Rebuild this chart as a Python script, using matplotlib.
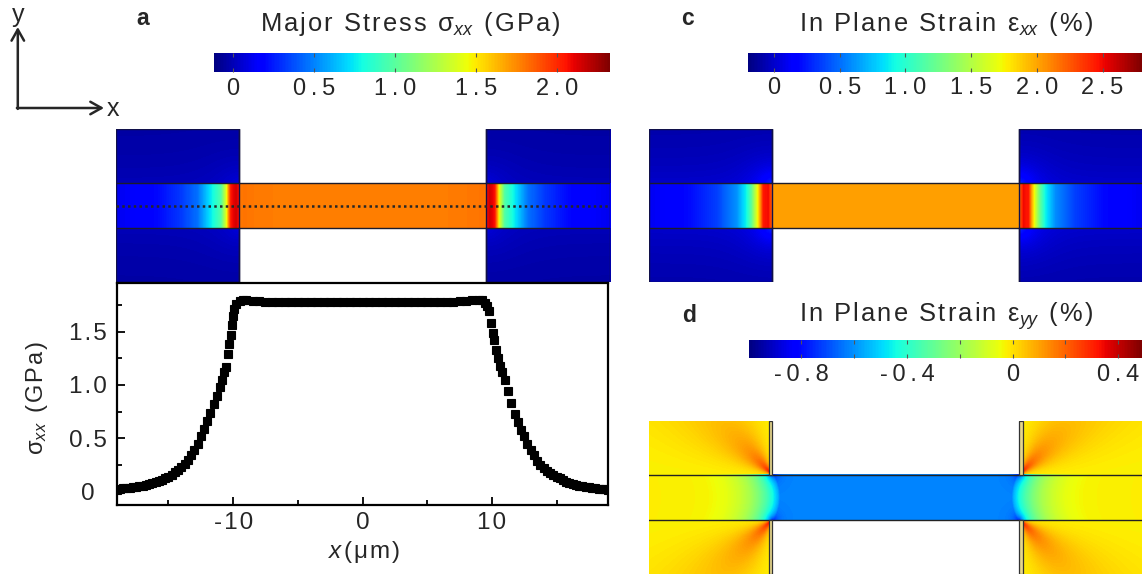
import numpy as np
import matplotlib
matplotlib.use("Agg")
import matplotlib.pyplot as plt
from matplotlib.colors import Normalize
from matplotlib.cm import ScalarMappable
from matplotlib.patches import Rectangle

plt.rcParams["font.family"] = ["Liberation Sans", "DejaVu Sans"]
plt.rcParams["mathtext.fontset"] = "custom"
plt.rcParams["mathtext.rm"] = "Liberation Sans"
plt.rcParams["mathtext.it"] = "Liberation Sans:italic"
plt.rcParams["axes.unicode_minus"] = False

TEXT = "#262626"
HAIR = "\u200a"
THIN = "\u2009"

# ---------------------------------------------------------------- data
# sigma_xx sampled along the dotted centre line of the bridge (panel b)
x_um = [
    -19.0, -18.75, -18.5, -18.25, -18.0, -17.75, -17.5, -17.25, -17.0, -16.75,
    -16.5, -16.25, -16.0, -15.75, -15.5, -15.25, -15.0, -14.75, -14.5, -14.25,
    -14.0, -13.75, -13.5, -13.25, -13.0, -12.75, -12.5, -12.25, -12.0, -11.75,
    -11.5, -11.25, -11.0, -10.85, -10.7, -10.55, -10.4, -10.3, -10.2, -10.1,
    -10.0, -9.9, -9.75, -9.5, -9.25, -9.0, -8.5, -8.0, -7.5, -7.0,
    -6.5, -6.0, -5.5, -5.0, -4.5, -4.0, -3.5, -3.0, -2.5, -2.0,
    -1.5, -1.0, -0.5, 0.0, 0.5, 1.0, 1.5, 2.0, 2.5, 3.0,
    3.5, 4.0, 4.5, 5.0, 5.5, 6.0, 6.5, 7.0, 7.5, 8.0,
    8.5, 9.0, 9.25, 9.5, 9.6, 9.75, 9.9, 10.05, 10.2, 10.35,
    10.5, 10.65, 10.8, 11.0, 11.25, 11.5, 11.75, 12.0, 12.25, 12.5,
    12.75, 13.0, 13.25, 13.5, 13.75, 14.0, 14.25, 14.5, 14.75, 15.0,
    15.25, 15.5, 15.75, 16.0, 16.25, 16.5, 16.75, 17.0, 17.25, 17.5,
    17.75, 18.0, 18.25, 18.5, 18.75, 19.0,
]
sxx_gpa = [
    0.02, 0.025, 0.03, 0.03, 0.035, 0.04, 0.045, 0.05, 0.055, 0.06,
    0.07, 0.08, 0.09, 0.10, 0.11, 0.125, 0.14, 0.16, 0.18, 0.205,
    0.23, 0.26, 0.30, 0.34, 0.39, 0.45, 0.52, 0.59, 0.66, 0.74,
    0.82, 0.90, 0.98, 1.05, 1.12, 1.17, 1.29, 1.38, 1.47, 1.56,
    1.65, 1.71, 1.76, 1.79, 1.80, 1.80, 1.79, 1.785, 1.78, 1.78,
    1.775, 1.775, 1.775, 1.775, 1.775, 1.775, 1.775, 1.775, 1.775, 1.775,
    1.775, 1.775, 1.775, 1.775, 1.775, 1.775, 1.775, 1.775, 1.775, 1.775,
    1.775, 1.775, 1.775, 1.775, 1.775, 1.775, 1.78, 1.78, 1.785, 1.79,
    1.795, 1.80, 1.80, 1.77, 1.74, 1.69, 1.58, 1.49, 1.42, 1.33,
    1.25, 1.18, 1.12, 1.05, 0.94, 0.83, 0.73, 0.65, 0.58, 0.52,
    0.45, 0.39, 0.34, 0.29, 0.25, 0.22, 0.195, 0.175, 0.155, 0.14,
    0.125, 0.11, 0.095, 0.08, 0.072, 0.065, 0.057, 0.05, 0.045, 0.04,
    0.035, 0.03, 0.028, 0.025, 0.022, 0.02,
]

# bridge geometry (um)
x_span = (-19.0, 19.0)
y_span = (-5.88, 5.88)
pad_edges = (-9.55, 9.45)
bar_half_width = 1.73

# colour-bar ranges
sxx_range = (-0.121, 2.324)   # GPa
exx_range = (-0.20, 2.80)     # %
eyy_range = (-1.00, 0.49)     # %

# field inside the bar band, as a function of depth into a pad (um)
band_depth_a = [0.0, 0.25, 0.65, 0.85, 1.0, 1.4, 2.15, 3.2, 4.5, 6.3, 9.5]
band_sxx = [2.05, 2.15, 2.05, 1.70, 1.40, 0.98, 0.76, 0.46, 0.32, 0.20, 0.12]

band_depth_c = [0.0, 0.3, 0.7, 0.95, 1.2, 1.6, 2.0, 2.75, 4.3, 6.4, 9.5]
band_exx = [2.20, 2.50, 2.45, 2.00, 1.65, 1.20, 0.90, 0.60, 0.36, 0.20, 0.10]
bar_exx = 2.02

band_depth_d = [-1.0, -0.15, 0.0, 0.4, 0.9, 1.5, 2.2, 3.0, 4.0, 5.5, 10.0]
band_eyy = [-0.62, -0.62, -0.55, -0.44, -0.34, -0.25, -0.17, -0.11, -0.06, -0.03, -0.02]
pad_eyy = -0.03
fan_eyy = (0.18, 0.17)        # near / far strength of the corner fans

# ---------------------------------------------------------------- figure
W, H = 1142, 575
fig = plt.figure(figsize=(W / 100, H / 100), dpi=100)


def box(x0, y0, x1, y1):
    """Pixel box (origin top-left) -> figure rectangle."""
    return [x0 / W, 1 - y1 / H, (x1 - x0) / W, (y1 - y0) / H]


def spaced(text, gap=HAIR):
    return gap.join(text)


overlay = fig.add_axes([0, 0, 1, 1])
overlay.set_xlim(0, W)
overlay.set_ylim(H, 0)
overlay.axis("off")

# ---------------------------------------------------------------- fields
h = bar_half_width
left, right = pad_edges
xs = np.linspace(*x_span, 988)
ys = np.linspace(*y_span, 306)
X, Y = np.meshgrid(xs, ys)
AY = np.abs(Y)
in_band = AY <= h
into_pad = np.maximum(left - X, X - right)
in_pad = into_pad >= 0
depth = np.clip(into_pad, 0, None)
above = np.clip(AY - h, 0, None)
r_corner = np.hypot(into_pad, AY - h)

bar = in_band & ~in_pad
band = in_band & in_pad
pad = ~in_band & in_pad

sxx_map = np.full(X.shape, np.nan)
sxx_map[bar] = np.interp(X[bar], x_um, sxx_gpa)
sxx_map[band] = np.interp(depth[band], band_depth_a, band_sxx)
sxx_map[pad] = -0.05 + 0.05 * np.exp(-above[pad] / 3) + 0.08 * np.exp(-r_corner[pad] / 1.5)

exx_map = np.full(X.shape, np.nan)
exx_map[bar] = bar_exx
exx_map[band] = np.interp(depth[band], band_depth_c, band_exx)
exx_map[pad] = -0.10 + 0.10 * np.exp(-above[pad] / 3) + 0.30 * np.exp(-r_corner[pad] / 1.2)

eyy_map = np.full(X.shape, np.nan)
s = into_pad + 0.45 * (1 - (Y / h) ** 2)
eyy_map[in_band] = (np.interp(s[in_band], band_depth_d, band_eyy)
                    - 0.18 * np.exp(-r_corner[in_band] / 0.35))
alpha = np.degrees(np.arctan2(above, depth))
fan = np.exp(-((alpha - 45) / 28) ** 2)
eyy_map[pad] = (pad_eyy
                + fan[pad] * (fan_eyy[0] * np.exp(-r_corner[pad] / 1.3)
                              + fan_eyy[1] * np.exp(-r_corner[pad] / 8))
                + 0.12 * np.exp(-r_corner[pad] / 0.35))

cmap = plt.get_cmap("jet").copy()
cmap.set_bad((1, 1, 1, 0))


def field_axes(rect, field, vrange):
    ax = fig.add_axes(rect)
    ax.imshow(np.ma.masked_invalid(field), cmap=cmap, vmin=vrange[0], vmax=vrange[1],
              extent=(*x_span, *y_span), origin="lower", aspect="auto",
              interpolation="nearest")
    ax.set_xlim(*x_span)
    ax.set_ylim(*y_span)
    ax.axis("off")
    return ax


def outline(ax, pad_line=True, color="#1c1c2c"):
    for yy in (h, -h):
        ax.plot(x_span, [yy, yy], color=color, lw=1.0, zorder=3)
    if pad_line:
        for xe in pad_edges:
            ax.plot([xe, xe], [h, y_span[1]], color=color, lw=1.0, zorder=3)
            ax.plot([xe, xe], [y_span[0], -h], color=color, lw=1.0, zorder=3)
        for x0, x1 in ((x_span[0], left), (right, x_span[1])):
            ax.add_patch(Rectangle((x0, y_span[0]), x1 - x0, y_span[1] - y_span[0],
                                   fill=False, ec="#10104a", lw=1.0, zorder=3))


def colorbar(rect, vrange, ticks, labels, minor=None):
    cax = fig.add_axes(rect)
    sm = ScalarMappable(norm=Normalize(*vrange), cmap="jet")
    cb = fig.colorbar(sm, cax=cax, orientation="horizontal")
    cb.outline.set_visible(False)
    cb.set_ticks(ticks, labels=[spaced(t, THIN) for t in labels])
    if minor is not None:
        cb.set_ticks(minor, minor=True)
    cax.tick_params(axis="x", which="both", direction="in", top=True, bottom=True,
                    length=3, width=0.8, color="#555555", labelsize=17,
                    labelcolor=TEXT, pad=4)
    return cb


# panel a: stress map
ax_a = field_axes(box(115.7, 129.3, 610.0, 282.3), sxx_map, sxx_range)
outline(ax_a)
ax_a.plot(x_span, [0, 0], ls=(0, (1, 1.3)), lw=1.8, color="#262626", zorder=4)
colorbar(box(213.5, 53.0, 610.0, 72.0), sxx_range,
         [0, 0.5, 1.0, 1.5, 2.0], ["0", "0.5", "1.0", "1.5", "2.0"])

# panel c: strain xx map
ax_c = field_axes(box(649.3, 129.3, 1143.6, 282.3), exx_map, exx_range)
outline(ax_c)
colorbar(box(747.7, 53.3, 1142.0, 71.7), exx_range,
         [0, 0.5, 1.0, 1.5, 2.0, 2.5], ["0", "0.5", "1.0", "1.5", "2.0", "2.5"])

# panel d: strain yy map
ax_d = field_axes(box(649.3, 420.7, 1143.6, 573.7), eyy_map, eyy_range)
outline(ax_d, pad_line=False, color="#222222")
for x0 in (left - 0.25, right):
    for y0, y1 in ((h, y_span[1]), (y_span[0], -h)):
        ax_d.add_patch(Rectangle((x0, y0), 0.25, y1 - y0, fc="#e6d68c",
                                 ec="#333333", lw=0.9, zorder=3))
colorbar(box(748.7, 340.0, 1142.0, 358.3), eyy_range,
         [-0.8, -0.4, 0, 0.4], ["-0.8", "-0.4", "0", "0.4"], minor=[-0.6, -0.2, 0.2])

# panel b: centre-line profile
ax_b = fig.add_axes(box(116.7, 283.0, 608.3, 505.0))
ax_b.plot(x_um, sxx_gpa, ls="none", marker="s", ms=6.4, mfc="black", mec="black", mew=0.8)
ax_b.set_xlim(-19, 19)
ax_b.set_ylim(-0.125, 1.955)
ax_b.set_xticks([-10, 0, 10], [spaced(t, HAIR) for t in ["-10", "0", "10"]])
ax_b.set_xticks([-15, -5, 5, 15], minor=True)
ax_b.set_yticks([0, 0.5, 1.0, 1.5], [spaced(t, HAIR) for t in ["0", "0.5", "1.0", "1.5"]])
ax_b.set_yticks([0.25, 0.75, 1.25, 1.75], minor=True)
ax_b.tick_params(which="both", direction="in", width=1.3, colors="black",
                 labelcolor=TEXT, labelsize=17.5)
ax_b.tick_params(which="major", length=6)
ax_b.tick_params(which="minor", length=3.5)
ax_b.tick_params(axis="x", pad=5)
ax_b.tick_params(axis="y", pad=20.7)
for lab in ax_b.get_yticklabels():
    lab.set_ha("center")
for sp in ax_b.spines.values():
    sp.set_linewidth(1.6)
overlay.text(37, 398, r"$\mathrm{\sigma}_{xx}$" + HAIR + spaced(" (GPa)", HAIR),
             rotation=90, ha="center", va="center", size=17, color=TEXT)
overlay.text(364, 552, r"$x$" + HAIR + spaced("(μm)", HAIR), ha="center", va="center",
             size=17.5, color=TEXT)

# titles and panel letters
titles = [
    (410, 31, "Major Stress ", r"$\mathrm{\sigma}_{xx}$", " (GPa)"),
    (946, 31, "In Plane Strain ", r"$\mathrm{\varepsilon}_{xx}$", " (%)"),
    (946, 321.7, "In Plane Strain ", r"$\mathrm{\varepsilon}_{yy}$", " (%)"),
]
for tx, ty, head, sym, tail in titles:
    overlay.text(tx, ty, spaced(head) + HAIR + sym + HAIR + spaced(tail),
                 ha="center", va="baseline", size=18.4, color=TEXT)
for letter, (lx, ly) in {"a": (143, 25), "c": (688, 25), "d": (689, 321.7),
                         "b": (147, 321)}.items():
    overlay.text(lx, ly, letter, ha="center", va="baseline", size=16.5,
                 weight="bold", color=TEXT, zorder=10)

# coordinate-system arrows
arrow = dict(arrowstyle="->,head_length=0.8,head_width=0.45", lw=1.8, color=TEXT,
             shrinkA=0, shrinkB=0)
overlay.annotate("", xy=(17.8, 27), xytext=(17.8, 108.9), arrowprops=arrow)
overlay.annotate("", xy=(104, 108), xytext=(16.9, 108), arrowprops=arrow)
overlay.text(18, 15, "y", ha="center", va="center", size=18, color=TEXT)
overlay.text(113, 109, "x", ha="center", va="center", size=18, color=TEXT)

fig.savefig("out.png", dpi=100)
